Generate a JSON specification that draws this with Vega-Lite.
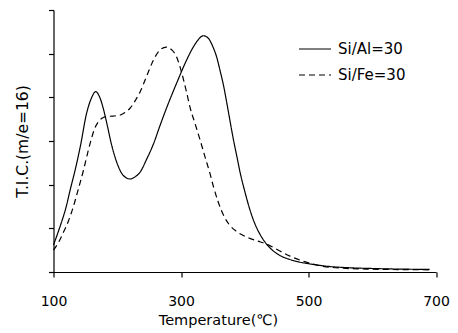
{
  "$schema": "https://vega.github.io/schema/vega-lite/v6.json",
  "width": 382.5,
  "height": 262,
  "autosize": "none",
  "padding": {"left": 53.5, "top": 10, "right": 22, "bottom": 61},
  "background": "white",
  "config": {
    "view": {"stroke": null},
    "font": "DejaVu Sans",
    "axis": {"domainColor": "black", "tickColor": "black", "labelColor": "black", "titleColor": "black", "grid": false, "labelFont": "DejaVu Sans", "titleFont": "DejaVu Sans", "titleFontWeight": "normal", "domainWidth": 1.2, "tickWidth": 1.2}
  },
  "data": {"values": [
    {"T":100,"v":0.62,"s":"Si/Al=30"},{"T":110,"v":1.03,"s":"Si/Al=30"},{"T":120,"v":1.5,"s":"Si/Al=30"},{"T":126,"v":1.87,"s":"Si/Al=30"},{"T":135,"v":2.4,"s":"Si/Al=30"},{"T":142,"v":2.87,"s":"Si/Al=30"},{"T":152,"v":3.64,"s":"Si/Al=30"},{"T":160,"v":4.0,"s":"Si/Al=30"},{"T":166,"v":4.13,"s":"Si/Al=30"},{"T":172,"v":4.02,"s":"Si/Al=30"},{"T":178,"v":3.75,"s":"Si/Al=30"},{"T":184,"v":3.38,"s":"Si/Al=30"},{"T":190,"v":2.98,"s":"Si/Al=30"},{"T":199,"v":2.52,"s":"Si/Al=30"},{"T":209,"v":2.22,"s":"Si/Al=30"},{"T":220,"v":2.13,"s":"Si/Al=30"},{"T":228,"v":2.18,"s":"Si/Al=30"},{"T":236,"v":2.29,"s":"Si/Al=30"},{"T":246,"v":2.58,"s":"Si/Al=30"},{"T":257,"v":2.94,"s":"Si/Al=30"},{"T":267,"v":3.35,"s":"Si/Al=30"},{"T":278,"v":3.78,"s":"Si/Al=30"},{"T":293,"v":4.32,"s":"Si/Al=30"},{"T":309,"v":4.86,"s":"Si/Al=30"},{"T":318,"v":5.12,"s":"Si/Al=30"},{"T":325,"v":5.28,"s":"Si/Al=30"},{"T":335,"v":5.41,"s":"Si/Al=30"},{"T":343,"v":5.35,"s":"Si/Al=30"},{"T":350,"v":5.16,"s":"Si/Al=30"},{"T":356,"v":4.92,"s":"Si/Al=30"},{"T":361,"v":4.63,"s":"Si/Al=30"},{"T":367,"v":4.25,"s":"Si/Al=30"},{"T":372,"v":3.86,"s":"Si/Al=30"},{"T":377,"v":3.45,"s":"Si/Al=30"},{"T":382,"v":3.05,"s":"Si/Al=30"},{"T":388,"v":2.62,"s":"Si/Al=30"},{"T":393,"v":2.26,"s":"Si/Al=30"},{"T":400,"v":1.85,"s":"Si/Al=30"},{"T":408,"v":1.43,"s":"Si/Al=30"},{"T":416,"v":1.1,"s":"Si/Al=30"},{"T":424,"v":0.86,"s":"Si/Al=30"},{"T":433,"v":0.66,"s":"Si/Al=30"},{"T":445,"v":0.48,"s":"Si/Al=30"},{"T":455,"v":0.38,"s":"Si/Al=30"},{"T":470,"v":0.29,"s":"Si/Al=30"},{"T":485,"v":0.23,"s":"Si/Al=30"},{"T":500,"v":0.19,"s":"Si/Al=30"},{"T":530,"v":0.13,"s":"Si/Al=30"},{"T":560,"v":0.1,"s":"Si/Al=30"},{"T":600,"v":0.08,"s":"Si/Al=30"},{"T":650,"v":0.065,"s":"Si/Al=30"},{"T":690,"v":0.06,"s":"Si/Al=30"},
    {"T":100,"v":0.5,"s":"Si/Fe=30"},{"T":108,"v":0.68,"s":"Si/Fe=30"},{"T":115,"v":0.89,"s":"Si/Fe=30"},{"T":123,"v":1.15,"s":"Si/Fe=30"},{"T":131,"v":1.49,"s":"Si/Fe=30"},{"T":139,"v":1.9,"s":"Si/Fe=30"},{"T":147,"v":2.33,"s":"Si/Fe=30"},{"T":154,"v":2.75,"s":"Si/Fe=30"},{"T":160,"v":3.08,"s":"Si/Fe=30"},{"T":165,"v":3.3,"s":"Si/Fe=30"},{"T":170,"v":3.43,"s":"Si/Fe=30"},{"T":176,"v":3.52,"s":"Si/Fe=30"},{"T":183,"v":3.56,"s":"Si/Fe=30"},{"T":193,"v":3.57,"s":"Si/Fe=30"},{"T":204,"v":3.59,"s":"Si/Fe=30"},{"T":212,"v":3.65,"s":"Si/Fe=30"},{"T":220,"v":3.75,"s":"Si/Fe=30"},{"T":228,"v":3.92,"s":"Si/Fe=30"},{"T":236,"v":4.13,"s":"Si/Fe=30"},{"T":246,"v":4.48,"s":"Si/Fe=30"},{"T":257,"v":4.86,"s":"Si/Fe=30"},{"T":266,"v":5.07,"s":"Si/Fe=30"},{"T":277,"v":5.15,"s":"Si/Fe=30"},{"T":286,"v":5.08,"s":"Si/Fe=30"},{"T":293,"v":4.93,"s":"Si/Fe=30"},{"T":298,"v":4.72,"s":"Si/Fe=30"},{"T":304,"v":4.4,"s":"Si/Fe=30"},{"T":309,"v":4.1,"s":"Si/Fe=30"},{"T":314,"v":3.78,"s":"Si/Fe=30"},{"T":322,"v":3.4,"s":"Si/Fe=30"},{"T":330,"v":3.02,"s":"Si/Fe=30"},{"T":338,"v":2.62,"s":"Si/Fe=30"},{"T":345,"v":2.28,"s":"Si/Fe=30"},{"T":351,"v":1.95,"s":"Si/Fe=30"},{"T":358,"v":1.62,"s":"Si/Fe=30"},{"T":366,"v":1.32,"s":"Si/Fe=30"},{"T":376,"v":1.08,"s":"Si/Fe=30"},{"T":387,"v":0.93,"s":"Si/Fe=30"},{"T":397,"v":0.84,"s":"Si/Fe=30"},{"T":408,"v":0.77,"s":"Si/Fe=30"},{"T":420,"v":0.71,"s":"Si/Fe=30"},{"T":434,"v":0.64,"s":"Si/Fe=30"},{"T":455,"v":0.48,"s":"Si/Fe=30"},{"T":470,"v":0.37,"s":"Si/Fe=30"},{"T":487,"v":0.27,"s":"Si/Fe=30"},{"T":505,"v":0.19,"s":"Si/Fe=30"},{"T":523,"v":0.13,"s":"Si/Fe=30"},{"T":550,"v":0.09,"s":"Si/Fe=30"},{"T":600,"v":0.065,"s":"Si/Fe=30"},{"T":650,"v":0.055,"s":"Si/Fe=30"},{"T":690,"v":0.05,"s":"Si/Fe=30"}
  ]},
  "mark": {"type": "line", "color": "black", "strokeWidth": 1.2, "interpolate": "monotone"},
  "encoding": {
    "x": {"field": "T", "type": "quantitative", "scale": {"domain": [100, 700], "nice": false, "zero": false},
      "axis": {"values": [100, 300, 500, 700], "title": "Temperature(℃)", "labelFontSize": 14, "titleFontSize": 14.5, "tickSize": 5, "labelPadding": 17, "labelFlush": false, "titlePadding": 5, "titleX": 164.5, "titleAlign": "center", "titleAnchor": null}},
    "y": {"field": "v", "type": "quantitative", "scale": {"domain": [0, 6], "nice": false},
      "axis": {"values": [0, 1, 2, 3, 4, 5, 6], "labels": false, "title": "T.I.C.(m/e=16)", "titleFontSize": 15.5, "tickSize": 5, "titlePadding": 17}},
    "strokeDash": {"field": "s", "type": "nominal", "scale": {"domain": ["Si/Al=30", "Si/Fe=30"], "range": [[1, 0], [6, 4]]},
      "legend": {"title": null, "orient": "none", "legendX": 244.5, "legendY": 22, "symbolType": "stroke", "symbolSize": 1024, "symbolStrokeColor": "black", "symbolStrokeWidth": 1.2, "labelFontSize": 15, "labelColor": "black", "labelOffset": 6, "rowPadding": 1, "labelFont": "DejaVu Sans"}}
  }
}
